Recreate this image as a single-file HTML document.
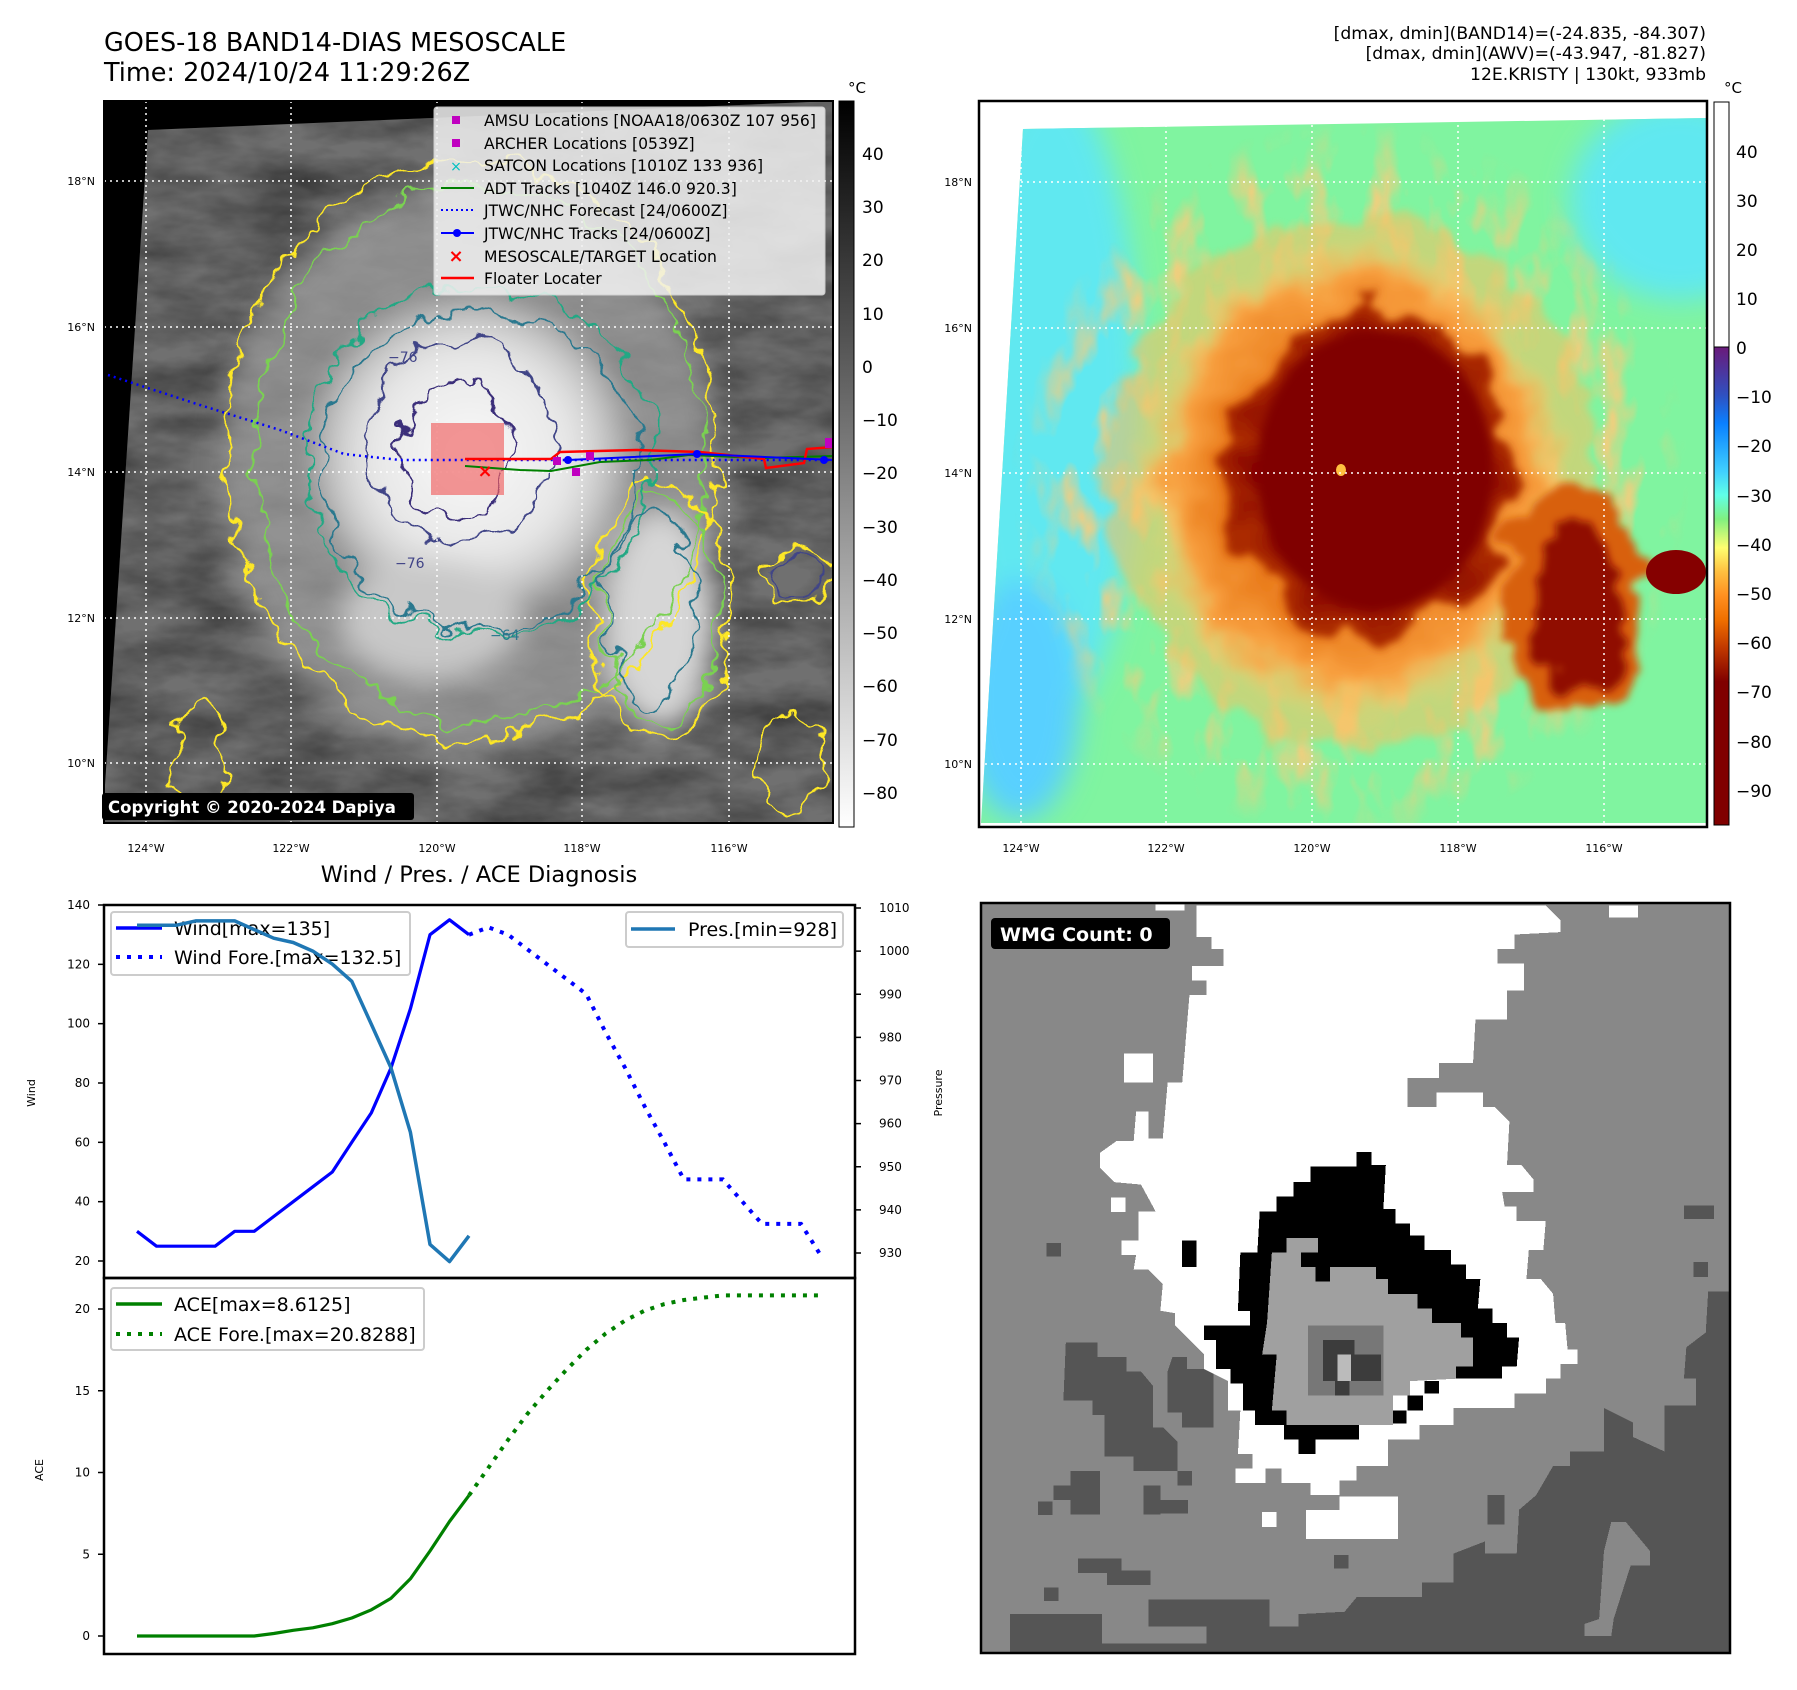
<!DOCTYPE html>
<html><head><meta charset="utf-8"><style>
html,body{margin:0;padding:0;background:#fff;}
svg{display:block;font-family:"DejaVu Sans","Liberation Sans",sans-serif;}
</style></head><body>
<svg id="root" width="1797" height="1690" viewBox="0 0 1797 1690" xmlns="http://www.w3.org/2000/svg">
<defs>
<filter id="noise1" x="0" y="0" width="100%" height="100%"><feTurbulence type="fractalNoise" baseFrequency="0.012 0.03" numOctaves="4" seed="3"/><feColorMatrix type="matrix" values="0 0 0 0 0  0 0 0 0 0  0 0 0 0 0  0 0 0 -1.4 1.0"/></filter>
<filter id="noiseOr" x="0" y="0" width="100%" height="100%"><feTurbulence type="fractalNoise" baseFrequency="0.03 0.015" numOctaves="3" seed="5"/><feColorMatrix type="matrix" values="0 0 0 0 0.95  0 0 0 0 0.6  0 0 0 0 0.2  0 0 0 3 -1.4"/></filter>
<filter id="wig" x="-20%" y="-20%" width="140%" height="140%"><feTurbulence type="fractalNoise" baseFrequency="0.03" numOctaves="3" seed="7" result="t"/><feDisplacementMap in="SourceGraphic" in2="t" scale="38" xChannelSelector="R" yChannelSelector="G"/></filter>
<filter id="wig2" x="-20%" y="-20%" width="140%" height="140%"><feTurbulence type="fractalNoise" baseFrequency="0.02" numOctaves="3" seed="11" result="t"/><feDisplacementMap in="SourceGraphic" in2="t" scale="60" xChannelSelector="R" yChannelSelector="G"/><feGaussianBlur stdDeviation="4"/></filter>
<filter id="blur8"><feGaussianBlur stdDeviation="14"/></filter>
<filter id="blur4"><feGaussianBlur stdDeviation="5"/></filter>
<radialGradient id="storm1" cx="0.5" cy="0.5" r="0.5"><stop offset="0" stop-color="#fafafa"/><stop offset="0.6" stop-color="#e6e6e6"/><stop offset="0.85" stop-color="#b8b8b8"/><stop offset="1" stop-color="#777" stop-opacity="0"/></radialGradient>
<linearGradient id="cb1" x1="0" y1="0" x2="0" y2="1"><stop offset="0" stop-color="#000"/><stop offset="1" stop-color="#fff"/></linearGradient>
<linearGradient id="cb2" x1="0" y1="0" x2="0" y2="1">
<stop offset="0" stop-color="#6a1a7a"/><stop offset="0.10" stop-color="#3050c0"/><stop offset="0.16" stop-color="#0a80ff"/><stop offset="0.26" stop-color="#40d0ff"/><stop offset="0.31" stop-color="#60ffe8"/><stop offset="0.36" stop-color="#80f080"/><stop offset="0.42" stop-color="#ffff70"/><stop offset="0.47" stop-color="#ffc040"/><stop offset="0.52" stop-color="#ff9020"/><stop offset="0.57" stop-color="#f07000"/><stop offset="0.63" stop-color="#c03800"/><stop offset="0.70" stop-color="#800000"/><stop offset="1" stop-color="#800000"/></linearGradient>
<radialGradient id="orangeG" cx="0.5" cy="0.5" r="0.5"><stop offset="0" stop-color="#c04800"/><stop offset="0.6" stop-color="#e87818"/><stop offset="0.82" stop-color="#f8a040"/><stop offset="1" stop-color="#ffd070" stop-opacity="0"/></radialGradient>
<radialGradient id="redG" cx="0.5" cy="0.5" r="0.5"><stop offset="0" stop-color="#800000"/><stop offset="0.75" stop-color="#880400"/><stop offset="1" stop-color="#b03000"/></radialGradient>
<radialGradient id="ringMask" cx="0.5" cy="0.5" r="0.5"><stop offset="0.35" stop-color="#000"/><stop offset="0.55" stop-color="#fff"/><stop offset="0.85" stop-color="#fff"/><stop offset="1" stop-color="#000"/></radialGradient>
<mask id="ringM"><rect x="979" y="101" width="728" height="726" fill="#000"/><ellipse cx="1350" cy="480" rx="340" ry="360" fill="url(#ringMask)"/></mask>
<clipPath id="clip1"><polygon points="104,823 104,800 148,130 833,101 833,823"/></clipPath>
<clipPath id="clip2"><polygon points="981,823 1023,129 1707,118 1707,823"/></clipPath>
</defs>

<!-- titles -->
<text x="104" y="51" font-size="25.5" fill="#000">GOES-18 BAND14-DIAS MESOSCALE</text>
<text x="104" y="81" font-size="25.5" fill="#000">Time: 2024/10/24 11:29:26Z</text>
<g font-size="17.2" text-anchor="end" fill="#000">
<text x="1706" y="39">[dmax, dmin](BAND14)=(-24.835, -84.307)</text>
<text x="1706" y="59">[dmax, dmin](AWV)=(-43.947, -81.827)</text>
<text x="1706" y="80">12E.KRISTY | 130kt, 933mb</text>
</g>

<!-- MAP 1 -->
<g>
<rect x="104" y="101" width="729" height="722" fill="#000"/>
<g clip-path="url(#clip1)">
<rect x="104" y="101" width="729" height="722" fill="#707070"/>
<rect x="104" y="101" width="729" height="722" fill="#2a2a2a" filter="url(#noise1)" opacity="0.5"/>
<g filter="url(#blur8)">
<ellipse cx="470" cy="470" rx="250" ry="285" fill="#a0a0a0" opacity="0.7"/>
<ellipse cx="470" cy="455" rx="175" ry="175" fill="url(#storm1)"/>
<ellipse cx="660" cy="620" rx="55" ry="110" fill="#d6d6d6"/>
<ellipse cx="430" cy="620" rx="90" ry="60" fill="#c8c8c8"/>
</g>
<g fill="none" filter="url(#wig)" stroke-width="2.2">
<ellipse cx="470" cy="450" rx="245" ry="290" stroke="#fde725"/>
<ellipse cx="480" cy="455" rx="225" ry="270" stroke="#7ad151"/>
<ellipse cx="660" cy="610" rx="70" ry="130" stroke="#fde725"/>
<ellipse cx="660" cy="610" rx="58" ry="115" stroke="#7ad151"/>
<ellipse cx="480" cy="460" rx="175" ry="175" stroke="#22a884"/>
<ellipse cx="480" cy="470" rx="160" ry="160" stroke="#2a788e"/>
<ellipse cx="650" cy="610" rx="45" ry="95" stroke="#2a788e"/>
<ellipse cx="460" cy="440" rx="95" ry="100" stroke="#414487"/>
<ellipse cx="455" cy="450" rx="55" ry="70" stroke="#3b2f7a"/>
<ellipse cx="800" cy="575" rx="28" ry="20" stroke="#414487"/>
<ellipse cx="800" cy="575" rx="36" ry="26" stroke="#fde725"/>
<ellipse cx="200" cy="760" rx="25" ry="60" stroke="#fde725"/>
<ellipse cx="790" cy="760" rx="35" ry="50" stroke="#fde725"/>
</g>
</g>
<g stroke="#fff" stroke-width="1.5" stroke-dasharray="2,4">
<line x1="146" y1="101" x2="146" y2="823"/><line x1="291" y1="101" x2="291" y2="823"/><line x1="437" y1="101" x2="437" y2="823"/><line x1="582" y1="101" x2="582" y2="823"/><line x1="729" y1="101" x2="729" y2="823"/>
<line x1="104" y1="181" x2="833" y2="181"/><line x1="104" y1="327" x2="833" y2="327"/><line x1="104" y1="472" x2="833" y2="472"/><line x1="104" y1="618" x2="833" y2="618"/><line x1="104" y1="763" x2="833" y2="763"/>
</g>
<rect x="431" y="423" width="73" height="72" fill="#f06060" opacity="0.65"/>
<polyline points="108,375 200,405 280,430 344,454 400,460 465,460 833,460" fill="none" stroke="#0000ff" stroke-width="2.5" stroke-dasharray="2,4"/>
<polyline points="465,466 520,470 551,471 600,462 650,460 689,455 760,458 833,456" fill="none" stroke="#008000" stroke-width="2"/>
<polyline points="465,459 551,459 560,452 637,450 700,452 764,459 766,468 804,463 807,449 833,447" fill="none" stroke="#ff0000" stroke-width="2.5"/>
<polyline points="568,460 697,454 833,460" fill="none" stroke="#0000ff" stroke-width="2"/>
<circle cx="568" cy="460" r="4" fill="#00f"/><circle cx="697" cy="454" r="4" fill="#00f"/><circle cx="824" cy="460" r="4" fill="#00f"/>
<g fill="#c000c0"><rect x="572" y="468" width="8" height="8"/><rect x="586" y="452" width="8" height="8"/><rect x="553" y="457" width="8" height="8"/><rect x="825" y="438" width="8" height="10"/></g>
<text x="485" y="477" font-size="18" fill="#ff0000" text-anchor="middle" font-weight="bold">×</text>
<g font-size="14" fill="#414487"><text x="388" y="362">−76</text><text x="395" y="568">−76</text><text x="490" y="640" fill="#2a788e">−64</text></g>
<g>
<rect x="434" y="107" width="391" height="188" fill="#f2f2f2" opacity="0.85" rx="3" stroke="#ddd"/>
<g font-size="15.6" fill="#000">
<rect x="452" y="116" width="8" height="8" fill="#c000c0"/><text x="484" y="126">AMSU Locations [NOAA18/0630Z 107 956]</text>
<rect x="452" y="139" width="8" height="8" fill="#c000c0"/><text x="484" y="149">ARCHER Locations [0539Z]</text>
<text x="456" y="171" font-size="14" fill="#00c0c0" text-anchor="middle">×</text><text x="484" y="171">SATCON Locations [1010Z 133 936]</text>
<line x1="441" y1="188" x2="474" y2="188" stroke="#008000" stroke-width="2"/><text x="484" y="194">ADT Tracks [1040Z 146.0 920.3]</text>
<line x1="441" y1="210" x2="474" y2="210" stroke="#0000ff" stroke-width="2" stroke-dasharray="2,3"/><text x="484" y="216">JTWC/NHC Forecast [24/0600Z]</text>
<line x1="441" y1="233" x2="474" y2="233" stroke="#0000ff" stroke-width="2"/><circle cx="457" cy="233" r="4" fill="#00f"/><text x="484" y="239">JTWC/NHC Tracks [24/0600Z]</text>
<text x="456" y="262" font-size="18" font-weight="bold" fill="#ff0000" text-anchor="middle">×</text><text x="484" y="262">MESOSCALE/TARGET Location</text>
<line x1="441" y1="278" x2="474" y2="278" stroke="#ff0000" stroke-width="2.5"/><text x="484" y="284">Floater Locater</text>
</g></g>
<rect x="102" y="793" width="312" height="27" fill="#000" rx="3"/>
<text x="108" y="813" font-size="16.5" font-weight="bold" fill="#fff">Copyright © 2020-2024 Dapiya</text>
<rect x="104" y="101" width="729" height="722" fill="none" stroke="#000" stroke-width="2"/>
</g>
<g font-size="11" fill="#000" text-anchor="end">
<text x="95" y="185">18°N</text><text x="95" y="331">16°N</text><text x="95" y="476">14°N</text><text x="95" y="622">12°N</text><text x="95" y="767">10°N</text></g>
<g font-size="11" fill="#000" text-anchor="middle">
<text x="146" y="852">124°W</text><text x="291" y="852">122°W</text><text x="437" y="852">120°W</text><text x="582" y="852">118°W</text><text x="729" y="852">116°W</text></g>
<g>
<rect x="839" y="101" width="15" height="726" fill="url(#cb1)" stroke="#000" stroke-width="1"/>
<text x="848" y="93" font-size="15">°C</text>
<g font-size="17" fill="#000">
<text x="862" y="160">40</text><text x="862" y="213">30</text><text x="862" y="266">20</text><text x="862" y="320">10</text><text x="862" y="373">0</text><text x="862" y="426">−10</text><text x="862" y="479">−20</text><text x="862" y="533">−30</text><text x="862" y="586">−40</text><text x="862" y="639">−50</text><text x="862" y="692">−60</text><text x="862" y="746">−70</text><text x="862" y="799">−80</text></g></g>

<!-- MAP 2 -->
<g>
<rect x="979" y="101" width="728" height="726" fill="#fff"/>
<g clip-path="url(#clip2)">
<rect x="979" y="101" width="728" height="726" fill="#80f4a0"/>
<g filter="url(#blur8)">
<ellipse cx="1050" cy="400" rx="90" ry="320" fill="#60e8f0"/>
<ellipse cx="1680" cy="200" rx="110" ry="100" fill="#60e8f0"/>
<ellipse cx="1020" cy="700" rx="60" ry="120" fill="#58d0ff"/>
</g>
<rect x="979" y="101" width="728" height="726" filter="url(#noiseOr)" mask="url(#ringM)" opacity="0.9"/>
<ellipse cx="1350" cy="480" rx="245" ry="265" fill="#f8c060" filter="url(#wig2)" opacity="0.55"/>
<ellipse cx="1355" cy="480" rx="215" ry="240" fill="url(#orangeG)" filter="url(#wig2)"/>
<ellipse cx="1570" cy="600" rx="70" ry="120" fill="#d86010" filter="url(#wig2)"/>
<ellipse cx="1575" cy="610" rx="45" ry="90" fill="#901000" filter="url(#wig2)"/>
<ellipse cx="1370" cy="475" rx="140" ry="165" fill="url(#redG)" filter="url(#wig2)"/>
<ellipse cx="1375" cy="470" rx="118" ry="140" fill="#800000" filter="url(#blur4)"/>
<ellipse cx="1676" cy="572" rx="30" ry="22" fill="#850000"/>
<ellipse cx="1341" cy="470" rx="5" ry="6" fill="#ffc040"/>
</g>
<g stroke="#fff" stroke-width="1.5" stroke-dasharray="2,4">
<line x1="1021" y1="101" x2="1021" y2="827"/><line x1="1166" y1="101" x2="1166" y2="827"/><line x1="1312" y1="101" x2="1312" y2="827"/><line x1="1458" y1="101" x2="1458" y2="827"/><line x1="1604" y1="101" x2="1604" y2="827"/>
<line x1="979" y1="182" x2="1707" y2="182"/><line x1="979" y1="328" x2="1707" y2="328"/><line x1="979" y1="473" x2="1707" y2="473"/><line x1="979" y1="619" x2="1707" y2="619"/><line x1="979" y1="764" x2="1707" y2="764"/>
</g>
<rect x="979" y="101" width="728" height="726" fill="none" stroke="#000" stroke-width="2.5"/>
</g>
<g font-size="11" fill="#000" text-anchor="end">
<text x="972" y="186">18°N</text><text x="972" y="332">16°N</text><text x="972" y="477">14°N</text><text x="972" y="623">12°N</text><text x="972" y="768">10°N</text></g>
<g font-size="11" fill="#000" text-anchor="middle">
<text x="1021" y="852">124°W</text><text x="1166" y="852">122°W</text><text x="1312" y="852">120°W</text><text x="1458" y="852">118°W</text><text x="1604" y="852">116°W</text></g>
<g>
<rect x="1714" y="102" width="15" height="245" fill="#fff" stroke="#000" stroke-width="1"/>
<rect x="1714" y="347" width="15" height="478" fill="url(#cb2)" stroke="#000" stroke-width="1"/>
<text x="1724" y="93" font-size="15">°C</text>
<g font-size="17" fill="#000">
<text x="1736" y="158">40</text><text x="1736" y="207">30</text><text x="1736" y="256">20</text><text x="1736" y="305">10</text><text x="1736" y="354">0</text><text x="1736" y="403">−10</text><text x="1736" y="452">−20</text><text x="1736" y="502">−30</text><text x="1736" y="551">−40</text><text x="1736" y="600">−50</text><text x="1736" y="649">−60</text><text x="1736" y="698">−70</text><text x="1736" y="748">−80</text><text x="1736" y="797">−90</text></g></g>

<!-- WMG -->
<g>
<svg x="981" y="903" width="749" height="750" viewBox="0 5 1545 1545" preserveAspectRatio="none" shape-rendering="crispEdges">
<rect x="0" y="0" width="1545" height="1560" fill="#888"/>
<polygon fill="#555" points="1545,805 1500,805 1495,890 1455,920 1450,985 1475,985 1475,1040 1410,1040 1410,1135 1345,1105 1345,1075 1285,1045 1285,1135 1215,1135 1215,1165 1180,1165 1145,1225 1110,1255 1105,1345 1040,1345 1040,1320 975,1345 975,1405 910,1405 910,1435 775,1435 750,1465 655,1470 655,1495 595,1495 595,1440 345,1440 345,1495 465,1495 465,1530 245,1530 245,1560 1545,1560"/>
<polygon fill="#888" points="1300,1280 1330,1280 1380,1340 1380,1370 1340,1370 1305,1480 1300,1515 1245,1515 1245,1490 1275,1480 1285,1340"/>
<polygon fill="#888" points="1400,805 1460,830 1455,890 1420,920 1395,920 1395,890 1365,890 1365,865 1400,865"/>
<rect x="60" y="1470" width="190" height="90" fill="#555"/><rect x="130" y="1415" width="30" height="28" fill="#555"/>
<rect x="200" y="1355" width="90" height="30" fill="#555"/><rect x="260" y="1380" width="90" height="30" fill="#555"/>
<polygon fill="#555" points="175,910 240,910 240,940 300,940 300,970 330,970 355,1000 355,1085 375,1085 405,1115 405,1175 315,1175 315,1145 255,1145 255,1060 230,1060 230,1030 170,1030"/>
<polygon fill="#555" points="395,940 425,940 425,965 480,965 480,1085 415,1085 415,1055 385,1055 385,970"/>
<rect x="185" y="1175" width="60" height="90" fill="#555"/><rect x="150" y="1205" width="40" height="30" fill="#555"/><rect x="118" y="1238" width="30" height="28" fill="#555"/>
<rect x="335" y="1205" width="35" height="60" fill="#555"/><rect x="365" y="1235" width="62" height="28" fill="#555"/><rect x="405" y="1175" width="30" height="30" fill="#555"/>
<rect x="135" y="705" width="30" height="28" fill="#555"/><rect x="1450" y="628" width="62" height="28" fill="#555"/><rect x="1470" y="745" width="30" height="30" fill="#555"/>
<rect x="1045" y="1225" width="35" height="60" fill="#555"/><rect x="728" y="1348" width="30" height="28" fill="#555"/>
<polygon fill="#fff" points="445,10 1165,10 1195,40 1195,65 1100,70 1100,100 1065,100 1065,130 1120,130 1120,185 1085,185 1085,245 1020,245 1015,335 945,335 945,365 880,365 880,425 940,425 940,395 1035,395 1035,425 1060,425 1090,455 1085,545 1115,545 1140,575 1140,600 1075,600 1080,630 1105,630 1105,660 1165,660 1160,720 1130,720 1125,780 1155,780 1180,810 1185,870 1205,870 1210,925 1230,925 1230,955 1195,955 1195,985 1165,985 1165,1015 1100,1015 1100,1045 975,1045 975,1080 905,1080 905,1110 840,1110 840,1165 775,1165 775,1195 740,1195 740,1225 680,1225 680,1200 620,1200 620,1170 560,1170 560,1140 530,1140 535,1050 510,1050 510,990 460,965 460,935 430,905 400,875 400,850 370,845 375,790 345,760 315,760 320,730 290,730 290,700 325,700 325,640 360,640 330,585 275,580 245,550 245,520 280,495 315,495 320,435 345,435 345,490 375,490 385,375 415,375 430,195 465,195 465,165 435,165 435,135 500,135 500,100 475,100 475,75 445,75"/>
<rect x="670" y="1255" width="190" height="60" fill="#fff"/><rect x="740" y="1228" width="120" height="30" fill="#fff"/><rect x="295" y="315" width="60" height="60" fill="#fff"/><rect x="268" y="612" width="30" height="30" fill="#fff"/>
<rect x="580" y="1260" width="30" height="30" fill="#fff"/><rect x="525" y="1170" width="62" height="30" fill="#fff"/><rect x="1295" y="10" width="60" height="25" fill="#fff"/><rect x="360" y="8" width="60" height="12" fill="#fff"/>
<polygon fill="#000" points="775,518 805,518 805,545 835,545 830,635 855,635 855,665 885,665 885,690 915,690 915,720 970,720 970,750 1000,750 1000,780 1030,780 1025,840 1055,840 1055,870 1085,870 1085,900 1110,900 1105,960 1075,960 1075,985 980,985 980,960 1015,960 1015,900 990,900 990,870 930,870 930,840 900,840 900,810 840,810 840,780 815,780 815,755 720,755 720,785 690,785 690,755 660,755 660,725 695,725 695,695 630,695 630,725 600,725 590,870 580,935 610,935 600,1050 630,1050 630,1080 780,1080 780,1110 690,1110 690,1140 655,1140 655,1110 625,1110 625,1080 565,1080 565,1050 540,1050 540,995 515,995 515,965 485,965 485,905 460,905 460,875 555,875 555,845 530,845 535,725 570,725 575,640 610,640 610,610 645,610 645,580 680,580 680,548 775,548"/>
<rect x="415" y="700" width="30" height="55" fill="#000"/><rect x="915" y="990" width="30" height="25" fill="#000"/><rect x="880" y="1020" width="32" height="30" fill="#000"/><rect x="850" y="1050" width="28" height="27" fill="#000"/>
<polygon fill="#a0a0a0" points="630,695 695,695 695,725 660,725 660,755 690,755 690,785 720,785 720,755 815,755 815,780 840,780 840,810 900,810 900,840 930,840 930,870 990,870 990,900 1015,900 1015,960 980,960 980,985 885,990 885,1020 850,1020 850,1080 630,1080 630,1050 600,1050 610,935 580,935 590,870 600,725 630,725"/>
<rect x="675" y="875" width="155" height="145" fill="#777"/><rect x="705" y="905" width="65" height="85" fill="#3c3c3c"/><rect x="765" y="935" width="60" height="55" fill="#3c3c3c"/><rect x="735" y="935" width="28" height="55" fill="#bbb"/><rect x="730" y="990" width="30" height="30" fill="#3c3c3c"/>
</svg>
<rect x="981" y="903" width="749" height="750" fill="none" stroke="#000" stroke-width="2.5"/>
<rect x="991" y="918" width="179" height="31" rx="4" fill="#000"/>
<text x="1000" y="941" font-size="19" font-weight="bold" fill="#fff">WMG Count: 0</text>
</g>

<!-- diagnosis chart -->
<text x="479" y="882" font-size="22.5" text-anchor="middle" fill="#000">Wind / Pres. / ACE Diagnosis</text>
<g id="chart"></g>
</svg>
<script>
const windIdx = [0,1,2,3,4,5,6,7,8,9,10,11,12,13,14,15,16,17];
const windVals = [30,25,25,25,25,30,30,35,40,45,50,60,70,85,105,130,135,130];
const windForeIdx = [17,18,19,20,21,22,23,24,25,26,27,28,29,30,31,32,33,34,35];
const windForeVals = [130,132.5,130,125,120,115,110,97,85,72,60,47.5,47.5,47.5,40,32.5,32.5,32.5,22];
const presVals = [1006,1006,1006,1007,1007,1007,1005,1003,1002,1000,997,993,983,973,958,932,928,934];
const aceVals = [0,0,0,0,0,0,0,0.15,0.35,0.5,0.75,1.1,1.6,2.3,3.5,5.2,7.0,8.6];
const aceForeIdx = [17,18,19,20,21,22,23,24,25,26,27,28,29,30,35];
const aceForeVals = [8.6,10.3,12.0,13.6,15.0,16.3,17.5,18.5,19.3,19.9,20.3,20.55,20.7,20.83,20.83];
const windTicks = [20,40,60,80,100,120,140];
const presTicks = [930,940,950,960,970,980,990,1000,1010];
const aceTicks = [0,5,10,15,20];

const NS = 'http://www.w3.org/2000/svg';
const g = document.getElementById('chart');
const X0 = 104, X1 = 855, TOP = 905, MID = 1278, BOT = 1654;
function xs(i){ return 137 + i * 19.53; }
function yW(v){ return 1261 - (v - 20) * (356 / 120); }
function yP(p){ return 1253 - (p - 930) * (345 / 80); }
function yA(a){ return 1636 - a * (327 / 20); }
function mk(tag, attrs, parent){ const e = document.createElementNS(NS, tag); for (const k in attrs) e.setAttribute(k, attrs[k]); (parent||g).appendChild(e); return e; }
function pts(idx, vals, yf){ return idx.map((i,k)=> xs(i).toFixed(1)+','+yf(vals[k]).toFixed(1)).join(' '); }

let f1 = mk('rect',{x:X0,y:TOP,width:X1-X0,height:MID-TOP,fill:'none',stroke:'#000','stroke-width':2.5});


let f2 = mk('rect',{x:X0,y:MID,width:X1-X0,height:BOT-MID,fill:'none',stroke:'#000','stroke-width':2.5});



windTicks.forEach(v=>{
  const y = yW(v);
  const t = mk('line',{x1:X0-6,x2:X0,y1:y,y2:y,stroke:'#000','stroke-width':1.5});
  
  
  const l = mk('text',{x:X0-14,y:y+4,'font-size':12,'text-anchor':'end'}); l.textContent = v;
  
  
});
presTicks.forEach(v=>{
  const y = yP(v);
  const t = mk('line',{x1:X1,x2:X1+6,y1:y,y2:y,stroke:'#000','stroke-width':1.5});
  
  
  const l = mk('text',{x:X1+24,y:y+4,'font-size':12}); l.textContent = v;
  
  
});
aceTicks.forEach(v=>{
  const y = yA(v);
  const t = mk('line',{x1:X0-6,x2:X0,y1:y,y2:y,stroke:'#000','stroke-width':1.5});
  
  
  const l = mk('text',{x:X0-14,y:y+4,'font-size':12,'text-anchor':'end'}); l.textContent = v;
  
  
});
let yl1 = mk('text',{x:35,y:1093,'font-size':11,'text-anchor':'middle',transform:'rotate(-90 35 1093)'}); yl1.textContent='Wind';


let yl2 = mk('text',{x:942,y:1093,'font-size':11,'text-anchor':'middle',transform:'rotate(-90 942 1093)'}); yl2.textContent='Pressure';


let yl3 = mk('text',{x:43,y:1470,'font-size':11,'text-anchor':'middle',transform:'rotate(-90 43 1470)'}); yl3.textContent='ACE';



let wl = mk('polyline',{points:pts(windIdx,windVals,yW),fill:'none',stroke:'#0000ff','stroke-width':3.2,'stroke-linejoin':'round'});


let wf = mk('polyline',{points:pts(windForeIdx,windForeVals,yW),fill:'none',stroke:'#0000ff','stroke-width':4,'stroke-dasharray':'4,7'});



let lg1 = mk('rect',{x:111,y:912,width:299,height:63,fill:'#fff','fill-opacity':0.8,stroke:'#ccc','stroke-width':2,rx:3});


mk('line',{x1:116,x2:162,y1:928,y2:928,stroke:'#0000ff','stroke-width':3.5});
mk('line',{x1:116,x2:162,y1:957,y2:957,stroke:'#0000ff','stroke-width':4,'stroke-dasharray':'4,7'});
let lt1 = mk('text',{x:174,y:935,'font-size':19}); lt1.textContent='Wind[max=135]';


let lt2 = mk('text',{x:174,y:964,'font-size':19}); lt2.textContent='Wind Fore.[max=132.5]';



let pl = mk('polyline',{points:pts(windIdx,presVals,yP),fill:'none',stroke:'#1f77b4','stroke-width':3.5,'stroke-linejoin':'round'});



let lg2 = mk('rect',{x:626,y:912,width:217,height:35,fill:'#fff','fill-opacity':0.8,stroke:'#ccc','stroke-width':2,rx:3});


mk('line',{x1:631,x2:675,y1:929,y2:929,stroke:'#1f77b4','stroke-width':3.5});
let lt3 = mk('text',{x:688,y:936,'font-size':19}); lt3.textContent='Pres.[min=928]';



let al = mk('polyline',{points:pts(windIdx,aceVals,yA),fill:'none',stroke:'#008000','stroke-width':3.2,'stroke-linejoin':'round'});


let af = mk('polyline',{points:pts(aceForeIdx,aceForeVals,yA),fill:'none',stroke:'#008000','stroke-width':4,'stroke-dasharray':'4,7'});



let lg3 = mk('rect',{x:111,y:1288,width:313,height:62,fill:'#fff','fill-opacity':0.8,stroke:'#ccc','stroke-width':2,rx:3});


mk('line',{x1:116,x2:162,y1:1304,y2:1304,stroke:'#008000','stroke-width':3.5});
mk('line',{x1:116,x2:162,y1:1334,y2:1334,stroke:'#008000','stroke-width':4,'stroke-dasharray':'4,7'});
let lt4 = mk('text',{x:174,y:1311,'font-size':19}); lt4.textContent='ACE[max=8.6125]';


let lt5 = mk('text',{x:174,y:1341,'font-size':19}); lt5.textContent='ACE Fore.[max=20.8288]';


</script>
</body></html>
